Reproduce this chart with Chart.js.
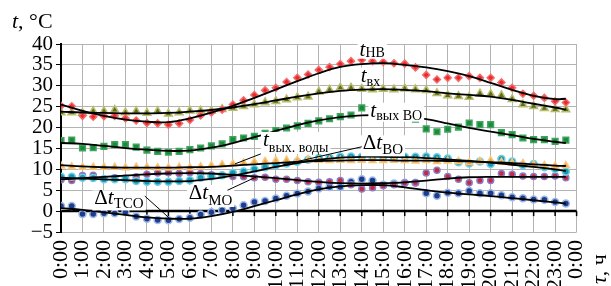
<!DOCTYPE html>
<html>
<head>
<meta charset="utf-8">
<script src="https://cdn.jsdelivr.net/npm/chart.js@4.4.1/dist/chart.umd.min.js"></script>
<style>
  body { margin: 0; background: #fff; }
  canvas { display: block; }
</style>
</head>
<body>
<canvas id="grafica" width="611" height="286"></canvas>
<script>
// half-hour readings over one day
const times = ["0:00","0:30","1:00","1:30","2:00","2:30","3:00","3:30","4:00","4:30","5:00","5:30",
  "6:00","6:30","7:00","7:30","8:00","8:30","9:00","9:30","10:00","10:30","11:00","11:30",
  "12:00","12:30","13:00","13:30","14:00","14:30","15:00","15:30","16:00","16:30","17:00","17:30",
  "18:00","18:30","19:00","19:30","20:00","20:30","21:00","21:30","22:00","22:30","23:00","23:30"];
const tickLabels = ["0:00","1:00","2:00","3:00","4:00","5:00","6:00","7:00","8:00","9:00","10:00","11:00",
  "12:00","13:00","14:00","15:00","16:00","17:00","18:00","19:00","20:00","21:00","22:00","23:00","0:00"];
const yTicks = [-5, 0, 5, 10, 15, 20, 25, 30, 35, 40];

const tNV = [25.2,25.1,22.8,22.6,22.7,22.8,22.2,21.7,21.1,21.0,20.7,21.0,
  21.8,22.9,23.6,24.3,25.5,26.5,27.8,28.9,29.5,30.9,31.9,32.7,
  33.8,34.5,35.2,35.9,36.2,35.9,35.7,35.4,35.3,34.4,32.6,31.5,
  31.9,31.9,32.3,31.9,31.9,30.8,29.5,28.1,27.6,27.1,26.3,26.0];
const tVh = [23.6,23.6,23.5,23.9,23.9,24.2,23.6,23.9,23.5,23.9,23.3,23.6,
  24.0,24.0,24.0,24.4,24.7,25.1,25.5,26.0,26.3,26.7,27.2,27.4,
  28.6,29.0,29.5,29.5,29.2,29.1,29.2,29.1,29.3,29.1,28.9,28.2,
  27.7,27.5,27.3,28.1,28.0,27.7,26.8,25.5,25.1,24.6,24.4,24.3];
const tVyhVO = [16.9,17.0,15.1,15.2,15.5,15.9,15.9,15.3,14.6,14.3,14.1,14.3,
  14.7,15.1,15.6,16.1,17.1,17.5,17.9,18.6,19.3,19.9,20.4,21.0,
  21.6,22.1,22.6,23.0,24.7,23.8,23.5,23.2,22.7,22.0,19.7,19.0,
  19.6,20.1,21.1,20.7,20.7,18.8,18.3,17.5,17.1,17.1,16.7,17.0];
const tVyhVody = [10.8,10.6,10.5,10.5,10.5,10.5,10.4,10.5,10.5,10.4,10.4,10.5,
  10.4,10.6,10.9,11.1,11.3,11.5,11.8,11.9,12.1,12.2,12.2,12.3,
  12.2,12.1,12.2,12.1,12.2,12.1,12.1,12.2,12.1,12.0,12.1,11.9,
  12.0,11.9,11.6,11.9,12.1,11.7,11.5,11.4,11.1,10.9,10.8,10.9];
const dtVO = [8.2,8.2,8.0,7.9,7.6,7.6,7.6,7.2,7.0,7.0,7.0,7.2,
  7.4,8.0,8.3,8.6,9.1,9.5,10.0,10.5,11.0,11.4,11.8,12.3,
  12.7,12.8,13.0,13.1,13.0,13.0,13.0,12.9,13.0,13.0,13.1,12.9,
  12.6,11.7,11.4,11.9,11.3,12.5,11.9,11.0,11.3,10.5,10.1,9.5];
const dtMO = [7.5,7.3,8.5,8.6,7.7,8.0,7.9,8.2,8.8,9.1,9.2,9.0,
  9.2,9.0,8.7,8.6,8.3,8.2,8.0,8.1,7.6,7.6,7.3,7.0,
  6.9,7.0,7.3,6.3,5.3,5.6,6.1,6.3,6.7,6.8,9.1,9.8,
  8.3,7.6,6.8,7.3,7.3,9.0,8.8,8.4,8.3,8.3,8.4,8.0];
const dtTSO = [1.2,1.2,-0.7,-0.7,-0.5,-0.5,-0.2,-1.3,-1.8,-2.1,-2.2,-1.9,
  -1.6,-0.8,-0.3,0.2,0.6,1.4,2.2,2.4,3.0,3.7,4.2,4.7,
  5.4,5.8,5.8,7.0,7.6,7.3,6.3,6.6,6.8,6.8,4.3,3.7,
  4.4,4.3,4.8,4.3,4.3,3.8,3.3,3.1,2.8,2.7,2.2,1.8];

// trend curves (black), read hourly
const trendTimes = ["0:00","1:00","2:00","3:00","4:00","5:00","6:00","7:00","8:00","9:00","10:00","11:00",
  "12:00","13:00","14:00","15:00","16:00","17:00","18:00","19:00","20:00","21:00","22:00","23:00","23:30"];
const trNV = [25.5,24.0,22.8,21.9,21.4,21.3,22.2,23.6,25.2,27.1,29.1,31.1,33.0,34.5,35.2,35.4,35.0,34.4,33.5,32.3,30.7,29.0,27.6,26.8,26.9];
const trVh = [23.8,23.6,23.5,23.4,23.4,23.5,23.8,24.2,24.8,25.6,26.5,27.4,28.2,28.8,29.1,29.2,29.0,28.7,28.2,27.8,27.4,26.6,25.7,24.8,24.3];
const trVyhVO = [16.3,16.1,15.6,15.1,14.7,14.4,14.5,15.2,16.3,17.7,19.2,20.6,21.7,22.5,22.9,23.0,22.7,22.0,21.0,19.9,19.0,18.2,17.3,16.6,16.3];
const trVyhVody = [11.0,10.7,10.5,10.4,10.4,10.4,10.5,10.6,10.9,11.2,11.5,11.8,12.0,12.1,12.2,12.2,12.1,12.1,12.0,11.9,11.7,11.5,11.2,10.9,10.8];
const trDtVO = [8.0,7.8,7.6,7.4,7.2,7.1,7.2,7.7,8.5,9.5,10.6,11.5,12.3,12.8,13.0,13.0,12.9,12.7,12.4,12.0,11.6,11.1,10.6,10.0,9.6];
const trDtMO = [7.6,7.9,8.2,8.5,8.8,9.0,9.1,9.0,8.7,8.3,7.9,7.4,7.0,6.7,6.6,6.7,6.9,7.3,7.8,8.1,8.2,8.2,8.2,8.2,8.2];
const trDtTSO = [0.7,0.3,-0.3,-0.9,-1.5,-1.8,-1.8,-1.2,-0.2,1.2,2.6,4.0,5.2,5.9,6.2,6.2,5.7,5.0,4.4,4.0,3.6,3.1,2.6,2.1,1.8];

const SERIF = "'Liberation Serif', 'DejaVu Serif', serif";

function puntos(valores) {
  return valores.map((v, i) => ({ x: i, y: v }));
}
function tendencia(valores) {
  return valores.map((v, i) => ({ x: times.indexOf(trendTimes[i]), y: v }));
}
function marcadores(valores, estilo, fondo, borde, radio) {
  return {
    data: puntos(valores), showLine: false, order: 2,
    pointStyle: estilo, pointRadius: radio, pointHoverRadius: radio,
    pointBackgroundColor: fondo, pointBorderColor: borde, pointBorderWidth: 1.5
  };
}
function curva(valores) {
  return {
    data: tendencia(valores), showLine: true, order: 1,
    borderColor: "#000", borderWidth: 1.8, tension: 0.4, pointRadius: 0, fill: false
  };
}

// labels placed in data units: [x index, value]; caja = extra box depth below baseline
const rotulos = [
  { at: [27.8, 37.2], caja: 3, parts: [["t", "italic 21px", 0], ["НВ", "14px", 1]] },
  { at: [27.9, 31.0], caja: 2, parts: [["t", "italic 21px", 0], ["вх", "14px", 4]] },
  { at: [28.8, 22.6], caja: 5, parts: [["t", "italic 21px", 0], ["вых ВО", "14px", 3]] },
  { at: [18.8, 15.6], caja: 8, parts: [["t", "italic 21px", 0], ["вых. воды", "14px", 6]] },
  { at: [28.1, 14.8], caja: 7, parts: [["Δ", "21px", 0], ["t", "italic 21px", 0], ["ВО", "15px", 5]] },
  { at: [11.9, 2.9], caja: 8, parts: [["Δ", "21px", 0], ["t", "italic 21px", 0], ["МО", "15px", 6]] },
  { at: [3.1, 1.6], caja: 6, parts: [["Δ", "21px", 0], ["t", "italic 21px", 0], ["ТСО", "15px", 4]] }
];
const guias = [
  [[18.6, 13.7], [16.2, 11.3]],
  [[28.0, 15.4], [20.7, 11.1]],
  [[15.5, 5.0], [18.2, 8.2]],
  [[7.8, 3.6], [10.1, -1.7]]
];

const extras = {
  id: "extras",
  beforeDatasetsDraw(chart) {
    const { ctx, chartArea, scales: { x, y } } = chart;
    const y0 = y.getPixelForValue(0);
    ctx.save();
    ctx.strokeStyle = "#000";
    ctx.lineWidth = 2.5;
    ctx.beginPath();
    ctx.moveTo(chartArea.left, y0);
    ctx.lineTo(chartArea.right, y0);
    ctx.stroke();
    ctx.lineWidth = 1.5;
    for (let i = 0; i <= 48; i += 2) {
      const px = x.getPixelForValue(i);
      ctx.beginPath();
      ctx.moveTo(px, y0);
      ctx.lineTo(px, y0 + 5);
      ctx.stroke();
    }
    ctx.restore();
  },
  afterDatasetsDraw(chart) {
    const { ctx, scales: { x, y } } = chart;
    ctx.save();
    ctx.textBaseline = "alphabetic";
    const medidos = rotulos.map(r => {
      const px = x.getPixelForValue(r.at[0]);
      const py = y.getPixelForValue(r.at[1]);
      let w = 0;
      r.parts.forEach(p => {
        ctx.font = p[1] + " " + SERIF;
        w += ctx.measureText(p[0]).width;
      });
      return { px, py, w, caja: r.caja, parts: r.parts };
    });
    ctx.fillStyle = "#fff";
    medidos.forEach(m => ctx.fillRect(m.px - 2, m.py - 14, m.w + 4, 14 + m.caja));
    ctx.strokeStyle = "#000";
    ctx.lineWidth = 1;
    guias.forEach(g => {
      ctx.beginPath();
      ctx.moveTo(x.getPixelForValue(g[0][0]), y.getPixelForValue(g[0][1]));
      ctx.lineTo(x.getPixelForValue(g[1][0]), y.getPixelForValue(g[1][1]));
      ctx.stroke();
    });
    ctx.fillStyle = "#000";
    medidos.forEach(m => {
      let cx = m.px;
      m.parts.forEach(p => {
        ctx.font = p[1] + " " + SERIF;
        ctx.fillText(p[0], cx, m.py + p[2]);
        cx += ctx.measureText(p[0]).width;
      });
    });
    ctx.restore();
  },
  afterDraw(chart) {
    const { ctx } = chart;
    ctx.save();
    ctx.fillStyle = "#000";
    ctx.textBaseline = "alphabetic";
    ctx.font = "italic 22px " + SERIF;
    ctx.fillText("t", 12, 28);
    const wt = ctx.measureText("t").width;
    ctx.font = "22px " + SERIF;
    ctx.fillText(", °C", 12 + wt, 28);
    ctx.translate(606, 284);
    ctx.rotate(-Math.PI / 2);
    ctx.font = "italic 22px " + SERIF;
    ctx.fillText("τ", 0, 0);
    const wtau = ctx.measureText("τ").width;
    ctx.font = "22px " + SERIF;
    ctx.fillText(", ч", wtau, 0);
    ctx.restore();
  }
};

const canvas = document.getElementById("grafica");
new Chart(canvas, {
  type: "scatter",
  data: {
    datasets: [
      curva(trNV), curva(trVh), curva(trVyhVO), curva(trVyhVody),
      curva(trDtVO), curva(trDtMO), curva(trDtTSO),
      marcadores(tNV, "rectRot", "#ec2a2a", "#f36b6b", 3.5),
      marcadores(tVh, "triangle", "#5f6b1e", "#b8bd6a", 4.5),
      marcadores(tVyhVO, "rect", "#1b8a3a", "#3ea55c", 4),
      marcadores(tVyhVody, "triangle", "#f0a030", "#f6c67c", 4),
      marcadores(dtVO, "circle", "#1596b4", "#6fcfe2", 3.5),
      marcadores(dtMO, "circle", "#c8283f", "#8a7cc6", 3),
      marcadores(dtTSO, "circle", "#1e3c8c", "#a0bbe8", 3.5)
    ]
  },
  options: {
    responsive: false,
    animation: false,
    layout: { padding: { left: 0, right: 32, top: 44, bottom: 0 } },
    plugins: { legend: { display: false }, tooltip: { enabled: false } },
    scales: {
      x: {
        type: "linear", min: 0, max: 48,
        afterFit: s => { s.height = 54; },
        border: { display: false },
        grid: { color: "#b3b3b3", lineWidth: 1, drawTicks: false },
        ticks: {
          stepSize: 2, autoSkip: false, maxRotation: 90, minRotation: 90, padding: 8,
          color: "#000", font: { family: SERIF, size: 22 },
          callback: v => tickLabels[v / 2]
        }
      },
      y: {
        min: -5, max: 40,
        afterFit: s => { s.width = 61; },
        afterBuildTicks: s => { s.ticks = yTicks.map(v => ({ value: v })); },
        border: { display: true, color: "#000", width: 2 },
        grid: { color: "#b3b3b3", lineWidth: 1, tickColor: "#000", tickLength: 5 },
        ticks: {
          autoSkip: false, padding: 3, color: "#000", font: { family: SERIF, size: 21 },
          callback: v => String(v).replace("-", "−")
        }
      }
    }
  },
  plugins: [extras]
});
</script>
</body>
</html>
